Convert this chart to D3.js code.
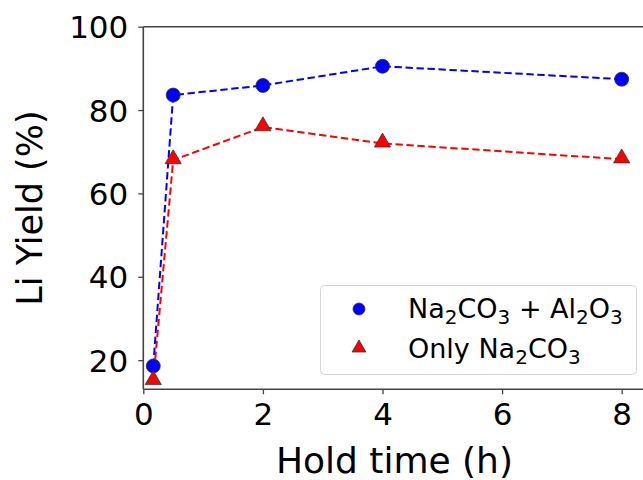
<!DOCTYPE html>
<meta charset="utf-8">
<title>Li yield vs hold time</title>
<style>
  body { margin: 0; background: #fff; }
  text { font-family: "DejaVu Sans", sans-serif; fill: #000; }
</style>
<body>
<svg id="chart" width="643" height="480"></svg>
<script src="https://d3js.org/d3.v7.min.js"></script>
<script>

// hold time in hours (first point is 10 min)
var holdTime = [1 / 6, 0.5, 2, 4, 8];

var yieldMixed = [18.6, 83.6, 85.9, 90.5, 87.4];   // Na2CO3 + Al2O3
var yieldSodaOnly = [15.0, 68.0, 75.9, 72.0, 68.2]; // Only Na2CO3

var seriesNames = ["Na2CO3 + Al2O3", "Only Na2CO3"];
var xTicks = [0, 2, 4, 6, 8];
var yTicks = [20, 40, 60, 80, 100];

var svg = d3.select("#chart");

var plotLeft = 143.3, plotRight = 645.6,
    plotTop = 26.7, plotBottom = 389.3;

var x = d3.scaleLinear().domain([0, 8.4]).range([plotLeft, plotRight]);
var y = d3.scaleLinear().domain([13, 100]).range([plotBottom, plotTop]);

var series = [
  { name: seriesNames[0], values: yieldMixed, color: "#0000ff", shape: "circle" },
  { name: seriesNames[1], values: yieldSodaOnly, color: "#ff0000", shape: "triangle" }
];

// axes
var xAxis = d3.axisBottom(x).tickValues(xTicks).tickSize(5).tickPadding(9)
  .tickFormat(d3.format("d"));
var yAxis = d3.axisLeft(y).tickValues(yTicks).tickSize(5).tickPadding(10)
  .tickFormat(d3.format("d"));

var gx = svg.append("g").attr("transform", "translate(0," + plotBottom + ")").call(xAxis);
var gy = svg.append("g").attr("transform", "translate(" + plotLeft + ",0)").call(yAxis);

[gx, gy].forEach(function (g) {
  g.select(".domain").remove();
  g.selectAll(".tick line").attr("stroke", "#444").attr("stroke-width", 1.3);
  g.selectAll(".tick text")
    .style("font-family", "DejaVu Sans")
    .style("font-size", "31px")
    .attr("fill", "#000");
});
gy.selectAll(".tick text").attr("dy", "0.36em");
gx.selectAll(".tick text").attr("dy", "0.71em");

// spines: left, top, bottom (right edge falls outside the picture)
var spine = svg.append("g").attr("stroke", "#444").attr("stroke-width", 1.6).attr("fill", "none");
spine.append("line").attr("x1", plotLeft).attr("x2", plotLeft).attr("y1", plotTop).attr("y2", plotBottom);
spine.append("line").attr("x1", plotLeft).attr("x2", 643).attr("y1", plotTop).attr("y2", plotTop);
spine.append("line").attr("x1", plotLeft).attr("x2", 643).attr("y1", plotBottom).attr("y2", plotBottom);

// axis labels
svg.append("text")
  .attr("x", (plotLeft + plotRight) / 2)
  .attr("y", 473)
  .attr("text-anchor", "middle")
  .style("font-size", "36px")
  .text("Hold time (h)");

svg.append("text")
  .attr("transform", "translate(42," + (plotTop + plotBottom) / 2 + ") rotate(-90)")
  .attr("text-anchor", "middle")
  .style("font-size", "35px")
  .text("Li Yield (%)");

var line = d3.line()
  .x(function (d, i) { return x(holdTime[i]); })
  .y(function (d) { return y(d); });

function drawMarker(g, shape, color, r) {
  if (shape === "circle") {
    g.append("circle").attr("r", r);
  } else {
    g.append("path").attr("d", d3.symbol().type(d3.symbolTriangle).size(r * r * 2.3)())
      .attr("transform", "translate(0,-1)");
  }
  g.selectAll("circle,path")
    .attr("fill", color)
    .attr("stroke", "#333")
    .attr("stroke-width", 0.8);
}

var plot = svg.append("g");

series.forEach(function (s) {
  plot.append("path")
    .datum(s.values)
    .attr("d", line)
    .attr("fill", "none")
    .attr("stroke", s.color)
    .attr("stroke-width", 2)
    .attr("stroke-dasharray", "7.4,3.6");
});

series.forEach(function (s) {
  plot.selectAll(null)
    .data(s.values)
    .enter().append("g")
      .attr("transform", function (d, i) { return "translate(" + x(holdTime[i]) + "," + y(d) + ")"; })
      .each(function () { drawMarker(d3.select(this), s.shape, s.color, 7); });
});

// legend
var legend = svg.append("g");
legend.append("rect")
  .attr("x", 320.5).attr("y", 285.5)
  .attr("width", 316).attr("height", 89)
  .attr("rx", 4)
  .attr("fill", "#fff").attr("fill-opacity", 0.8)
  .attr("stroke", "#d6d6d6").attr("stroke-width", 1);

// turn digits in formulas into subscripts
function addFormula(textSel, label) {
  var shift = 0;
  label.split(/(\d+)/).forEach(function (part) {
    if (part === "") return;
    var sub = /^\d+$/.test(part);
    var ts = textSel.append("tspan").text(part);
    if (sub) {
      ts.attr("dy", 6 - shift).style("font-size", "20px");
      shift = 6;
    } else {
      ts.attr("dy", -shift);
      shift = 0;
    }
  });
}

series.forEach(function (s, i) {
  var rowY = 309 + i * 40;
  var mk = legend.append("g").attr("transform", "translate(359," + rowY + ")");
  drawMarker(mk, s.shape, s.color, 6);
  var t = legend.append("text")
    .attr("x", 408)
    .attr("y", rowY + 9)
    .style("font-size", "27px");
  addFormula(t, s.name);
});

</script>
</body>
